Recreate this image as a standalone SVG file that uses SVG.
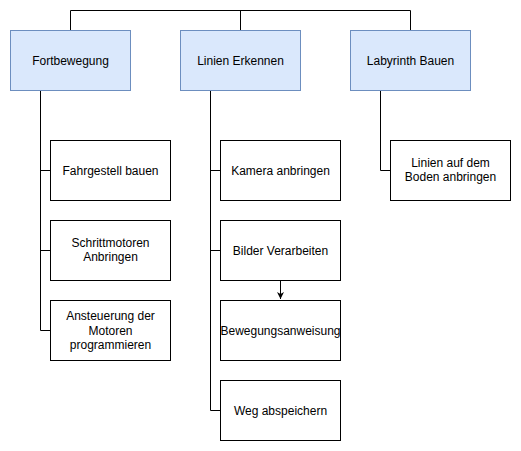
<svg xmlns="http://www.w3.org/2000/svg" width="521" height="451" viewBox="0 0 521 451">
<style>
.top{fill:#dae8fc;stroke:#6c8ebf;stroke-width:1}
.box{fill:#ffffff;stroke:#000000;stroke-width:1}
.lbl{font-family:"Liberation Sans",Arial,Helvetica,sans-serif;font-size:12px;fill:#000000;text-anchor:middle}
.edge{fill:none;stroke:#000000;stroke-width:1}
</style>
<defs>
<marker id="arr" viewBox="0 0 10 10" refX="10" refY="5" markerWidth="7" markerHeight="7" markerUnits="userSpaceOnUse" orient="auto">
<path d="M0,0 L10,5 L0,10 L3,5 Z" fill="#000000"/>
</marker>
</defs>
<rect width="521" height="451" fill="#ffffff"/>
<g id="connectors">
<path class="edge" d="M70.5,30 V10.5 H410.5 V30"/>
<path class="edge" d="M240.5,10.5 V30"/>
<path class="edge" d="M40.5,90 V330.5 H50"/>
<path class="edge" d="M40.5,170.5 H50"/>
<path class="edge" d="M40.5,250.5 H50"/>
<path class="edge" d="M210.5,90 V410.5 H220"/>
<path class="edge" d="M210.5,170.5 H220"/>
<path class="edge" d="M210.5,250.5 H220"/>
<path class="edge" d="M380.5,90 V170.5 H390"/>
<path class="edge" d="M280.5,280 V299" marker-end="url(#arr)"/>
</g>
<g id="fortbewegung"><rect class="top" x="10.5" y="30.5" width="120" height="60"/><text class="lbl" x="70.5" y="64.5">Fortbewegung</text></g>
<g id="linien-erkennen"><rect class="top" x="180.5" y="30.5" width="120" height="60"/><text class="lbl" x="240.5" y="64.5">Linien Erkennen</text></g>
<g id="labyrinth-bauen"><rect class="top" x="350.5" y="30.5" width="120" height="60"/><text class="lbl" x="410.5" y="64.5">Labyrinth Bauen</text></g>
<g id="fahrgestell"><rect class="box" x="50.5" y="140.5" width="120" height="60"/><text class="lbl" x="110.5" y="174.5">Fahrgestell bauen</text></g>
<g id="schrittmotoren"><rect class="box" x="50.5" y="220.5" width="120" height="60"/><text class="lbl" x="110.5" y="247">Schrittmotoren</text><text class="lbl" x="110.5" y="261">Anbringen</text></g>
<g id="ansteuerung"><rect class="box" x="50.5" y="300.5" width="120" height="60"/><text class="lbl" x="110.5" y="320">Ansteuerung der</text><text class="lbl" x="110.5" y="334.5">Motoren</text><text class="lbl" x="110.5" y="349">programmieren</text></g>
<g id="kamera"><rect class="box" x="220.5" y="140.5" width="120" height="60"/><text class="lbl" x="280.5" y="174.5">Kamera anbringen</text></g>
<g id="bilder"><rect class="box" x="220.5" y="220.5" width="120" height="60"/><text class="lbl" x="280.5" y="254.5">Bilder Verarbeiten</text></g>
<g id="bewegung"><rect class="box" x="220.5" y="300.5" width="120" height="60"/><text class="lbl" x="280.5" y="334.5">Bewegungsanweisung</text></g>
<g id="weg"><rect class="box" x="220.5" y="380.5" width="120" height="60"/><text class="lbl" x="280.5" y="414.5">Weg abspeichern</text></g>
<g id="linien-boden"><rect class="box" x="390.5" y="140.5" width="120" height="60"/><text class="lbl" x="450.5" y="167">Linien auf dem</text><text class="lbl" x="450.5" y="181">Boden anbringen</text></g>
</svg>
